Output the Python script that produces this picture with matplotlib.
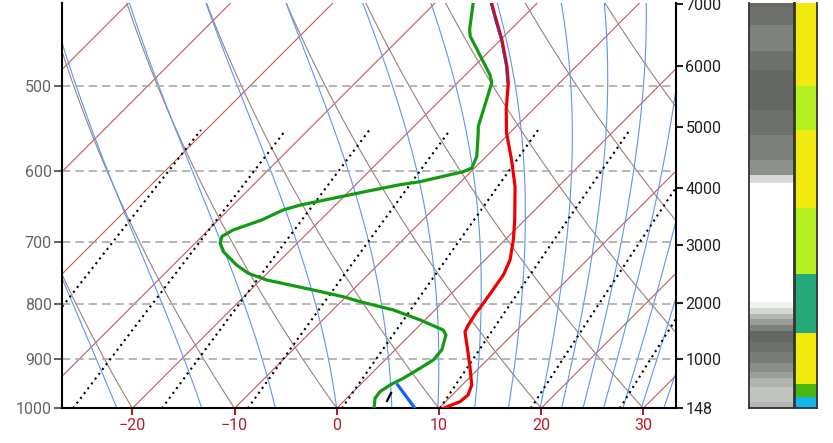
import numpy as np
import matplotlib
matplotlib.use("Agg")
import matplotlib.pyplot as plt
from matplotlib.ticker import NullLocator

plt.rcParams['font.family'] = ['Roboto', 'DejaVu Sans']

# --- sounding (hPa, degC) ---
temp_p = [1000, 985.9, 971.8, 951.1, 914.5, 888.3, 863.2, 848.2, 836.0, 812.3, 806.1,
          778.4, 750.4, 726.9, 696.2, 667.4, 620.8, 586.5, 553.4, 526.3, 496.8, 479.5,
          452.8, 434.3, 418.7]
temp_t = [10.43, 11.42, 11.55, 10.93, 8.97, 7.47, 5.97, 5.06, 4.73, 4.25, 4.21,
          3.76, 3.26, 2.45, 0.81, -0.98, -4.24, -7.17, -10.30, -12.62, -15.04, -16.79,
          -19.89, -22.34, -24.46]

dew_p = [1000, 978.7, 964.9, 951.1, 937.5, 917.5, 901.2, 882.0, 854.2, 845.2, 827.0,
         809.5, 795.2, 786.8, 775.5, 759.0, 748.2, 735.0, 714.1, 701.2, 691.2, 681.6,
         667.4, 653.0, 646.3, 636.8, 627.3, 618.5, 614.6, 601.5, 596.8, 582.0, 553.7,
         545.8, 497.1, 488.4, 449.5, 443.0, 418.7]
dew_t = [3.65, 2.77, 2.61, 2.94, 3.58, 4.24, 4.73, 4.57, 3.52, 2.77, -0.49,
         -4.08, -8.15, -10.27, -13.87, -19.4, -21.86, -23.81, -26.42, -27.56, -28.04, -27.56,
         -25.76, -24.63, -23.48, -20.88, -18.26, -15.66, -14.02, -10.76, -10.27, -10.92, -13.05,
         -13.70, -16.63, -17.61, -23.32, -24.04, -26.26]

# thin second temperature trace near the top
temp2_p = [418.7, 434.3, 452.8, 479.5, 496.8]
temp2_t = [-24.58, -22.46, -20.01, -16.91, -15.17]

# short surface segment and marker
seg_p = [951.1, 1000]
seg_t = [3.69, 7.66]
mark_p = [984.4, 967.6]
mark_t = [4.21, 3.82]

# background lines
isotherms = np.arange(-100, 41, 10)
dry_theta = np.arange(-40, 81, 10)
moist_start = [-21.5, -13.2, -6.0, 0.0, 5.4, 9.9, 13.5, 16.8, 19.9, 22.0, 24.1,
               26.1, 28.0, 29.8, 32.0]
mixr_start = [-34.6, -25.8, -17.1, -8.7, 0.5, 10.1, 19.0, 27.7]
p_levels = [500, 600, 700, 800, 900, 1000]

# height axis
hgt_labels = ['148', '1000', '2000', '3000', '4000', '5000', '6000', '7000']
hgt_p = [1000, 900.0, 796.9, 703.8, 622.3, 546.5, 479.6, 419.3]

# cloud column (edges top -> bottom, grey levels)
cloud_edges = [418.6, 422.1, 438.6, 463.8, 483.1, 526.5, 555.6, 586.2, 605.5, 615.6,
               795.2, 805.5, 816.5, 825.3, 836.0, 846.3, 866.6, 885.4, 906.6, 924.3,
               936.3, 954.6, 985.9, 1000]
cloud_grey = [104, 111, 127, 111, 101, 111, 125, 142, 216, 255,
              240, 214, 181, 155, 127, 101, 110, 122, 138, 156, 177, 193, 181]

# category column
cat_edges = [418.6, 500, 550, 650, 750, 850, 950, 975, 1000]
cat_colors = ['#f0ea0f', '#b6f020', '#f0ea0f', '#b6f020', '#25a97a', '#f0ea0f',
              '#47b80c', '#13b6e6']

SKEW = 45.5
P_BOT, P_TOP = 1000.0, 418.6
XL, XR = -26.85, 33.17


def skx(t, p):
    return np.asarray(t, float) + SKEW * np.log(1000.0 / np.asarray(p, float))


def es(t):
    return 6.112 * np.exp(17.67 * t / (t + 243.5))


def moist_adiabat(t0, p):
    rd, cp, lv, eps = 287.04, 1005.7, 2.501e6, 0.622

    def f(T, pp):
        e = es(T - 273.15)
        rs = eps * e / (pp - e)
        return (rd * T + lv * rs) / (pp * (cp + lv * lv * rs * eps / (rd * T * T)))

    T = t0 + 273.15
    out = [T]
    for i in range(1, len(p)):
        dp = p[i] - p[i - 1]
        k1 = f(T, p[i - 1])
        k2 = f(T + dp * k1, p[i])
        T = T + dp * (k1 + k2) / 2
        out.append(T)
    return np.array(out) - 273.15


def grey(g):
    if g >= 250:
        return (1, 1, 1)
    return (g / 255, min(g + 2, 255) / 255, max(g - 3, 0) / 255)


fig = plt.figure(figsize=(8.33, 4.43), dpi=100)
bot = 1 - 408.3 / 443
hgt = 405.3 / 443
ax = fig.add_axes([62.3 / 833, bot, 613.4 / 833, hgt])

pp = np.geomspace(P_BOT, 400, 200)

for t in isotherms:
    ax.plot(skx(t, pp), pp, color='#c25a58', lw=0.8, zorder=1)
for th in dry_theta:
    tt = (th + 273.15) * (pp / 1000.0) ** 0.2857 - 273.15
    ax.plot(skx(tt, pp), pp, color='#a07d7d', lw=0.8, zorder=1)
for t0 in moist_start:
    tt = moist_adiabat(t0, pp)
    ax.plot(skx(tt, pp), pp, color='#5b97f5', lw=0.8, zorder=1)

pm = np.geomspace(1000, 550, 60)
for t0 in mixr_start:
    w = 0.622 * es(t0) / (1000 - es(t0))
    e = w * pm / (0.622 + w)
    lg = np.log(e / 6.112)
    td = 243.5 * lg / (17.67 - lg)
    ax.plot(skx(td, pm), pm, color='black', lw=1.5, linestyle=(0, (1, 1.9)),
            dash_capstyle='butt', zorder=2)

for p in p_levels[:-1]:
    ax.axhline(p, color='#aaaaaa', lw=1.2, dashes=(5, 3), zorder=1.5)

ax.plot(skx(dew_t, dew_p), dew_p, color='#129a12', lw=2.3, zorder=4)
ax.plot(skx(temp_t, temp_p), temp_p, color='#ee0000', lw=2.3, zorder=4)
ax.plot(skx(temp2_t, temp2_p), temp2_p, color='#3344bb', lw=0.9, zorder=5)
ax.plot(skx(seg_t, seg_p), seg_p, color='#1560ff', lw=2.3, zorder=4)
ax.plot(skx(mark_t, mark_p), mark_p, color='black', lw=1.6, zorder=5)

ax.set_yscale('log')
ax.set_ylim(P_BOT, P_TOP)
ax.set_xlim(XL, XR)
ax.yaxis.set_minor_locator(NullLocator())
ax.set_yticks(p_levels, labels=[str(p) for p in p_levels])
ax.set_xticks([-20, -10, 0, 10, 20, 30])
ax.tick_params(axis='y', colors='#666666', length=6, width=1.5, labelsize=11.5, pad=1.5)
ax.tick_params(axis='x', colors='#b51d25', length=5, width=1.5, labelsize=11.5, pad=2)
ax.spines['top'].set_visible(False)
ax.spines['right'].set_visible(False)
for s in ('left', 'bottom'):
    ax.spines[s].set_linewidth(1.5)
    ax.spines[s].set_color('black')

tw = ax.twinx()
tw.set_yscale('log')
tw.set_ylim(P_BOT, P_TOP)
tw.yaxis.set_minor_locator(NullLocator())
tw.set_yticks(hgt_p, labels=hgt_labels)
tw.tick_params(axis='y', colors='#222222', length=5, width=1.5, labelsize=11.5, pad=2)
for s in ('left', 'bottom', 'top'):
    tw.spines[s].set_visible(False)
tw.spines['right'].set_linewidth(1.5)

# cloud column
axc = fig.add_axes([749.3 / 833, bot, 44.7 / 833, hgt])
for i, g in enumerate(cloud_grey):
    axc.axhspan(cloud_edges[i + 1], cloud_edges[i], color=grey(g), lw=0)
# category column
axk = fig.add_axes([794.7 / 833, bot, 22.3 / 833, hgt])
for i, c in enumerate(cat_colors):
    axk.axhspan(cat_edges[i + 1], cat_edges[i], color=c, lw=0)

for a in (axc, axk):
    a.set_yscale('log')
    a.set_ylim(P_BOT, P_TOP)
    a.set_xticks([])
    a.set_yticks([])
    a.yaxis.set_minor_locator(NullLocator())
    for s in a.spines.values():
        s.set_color('#333333')
        s.set_linewidth(1.3)
    a.spines['top'].set_visible(False)

fig.savefig('out.png', dpi=100)
